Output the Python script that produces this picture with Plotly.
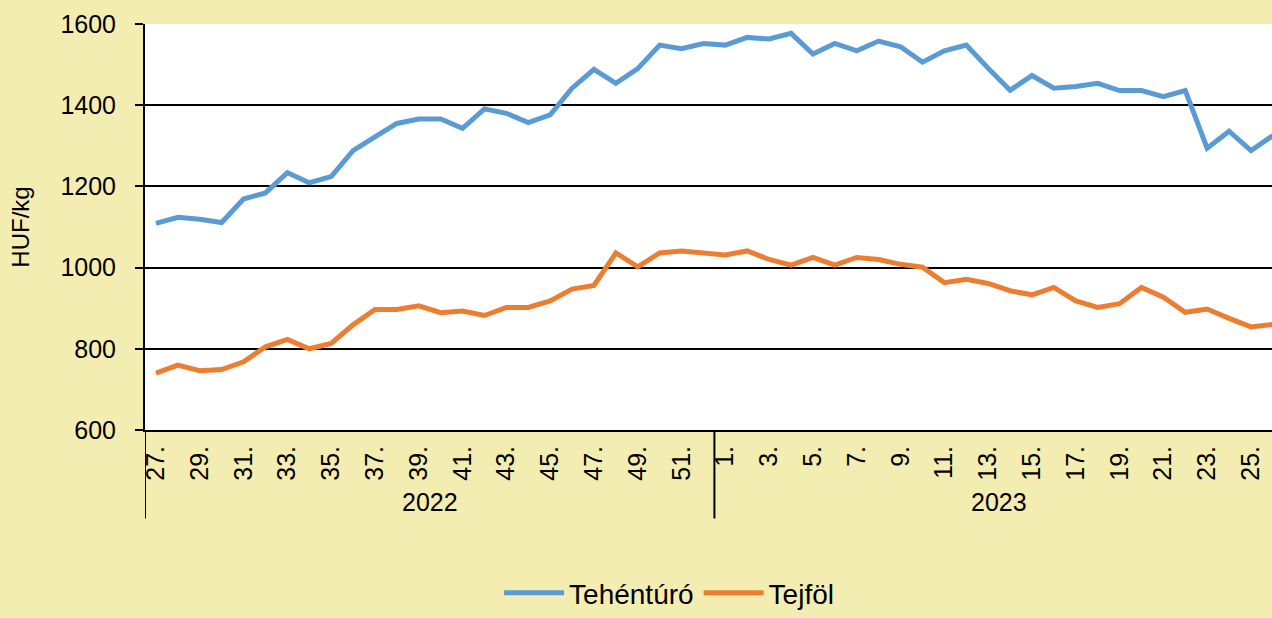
import plotly.graph_objects as go

weeks_2022 = list(range(27, 53))
weeks_2023 = list(range(1, 27))
week_labels = [f"{w}." for w in weeks_2022 + weeks_2023]

tehenturo = [1109, 1124, 1119, 1111, 1169, 1184, 1234, 1209, 1224, 1288,
             1322, 1355, 1366, 1366, 1343, 1391, 1380, 1357, 1376, 1442,
             1488, 1454, 1490, 1548, 1539, 1552, 1548, 1567, 1563, 1577,
             1526, 1552, 1534, 1558, 1544, 1506, 1534, 1548, 1491, 1437,
             1473, 1442, 1446, 1454, 1436, 1436, 1421, 1436, 1294, 1336,
             1288, 1325]
tejfol = [740, 760, 746, 749, 768, 805, 823, 800, 813, 859,
          897, 897, 906, 889, 893, 882, 902, 902, 918, 947,
          956, 1036, 1002, 1036, 1041, 1035, 1031, 1041, 1020, 1006,
          1025, 1006, 1025, 1020, 1008, 1001, 963, 971, 961, 943,
          933, 951, 918, 902, 911, 951, 927, 890, 898, 875,
          854, 860]

years = ["2022", "2023"]

BG = "#F4EDB2"
FONT = "Liberation Sans, Arial, sans-serif"

fig = go.Figure()
fig.add_trace(go.Scatter(x=week_labels, y=tehenturo, name="Tehéntúró", mode="lines",
                         line=dict(color="#5B9BD5", width=5)))
fig.add_trace(go.Scatter(x=week_labels, y=tejfol, name="Tejföl", mode="lines",
                         line=dict(color="#ED7D31", width=5)))

fig.update_layout(
    width=1272, height=618,
    margin=dict(l=145, r=0, t=24, b=188),
    paper_bgcolor=BG,
    plot_bgcolor="white",
    font=dict(family=FONT, size=25, color="black"),
    showlegend=True,
    legend=dict(orientation="h", xref="container", yref="container",
                x=0.526, xanchor="center", y=-0.008, yanchor="bottom",
                font=dict(size=28), itemwidth=60, bgcolor="rgba(0,0,0,0)"),
)

fig.update_xaxes(
    type="category",
    range=[-0.5, 50.96],
    tickmode="array", tickvals=week_labels[::2], ticktext=week_labels[::2],
    tickangle=-90,
    showgrid=False,
    showline=True, linecolor="black", linewidth=2,
    ticks="", ticklabelstandoff=4,
)
fig.update_yaxes(
    range=[600, 1600], dtick=200,
    showgrid=True, gridcolor="black", gridwidth=2,
    showline=True, linecolor="black", linewidth=2,
    ticks="outside", ticklen=8, tickwidth=2, tickcolor="black",
    ticklabelstandoff=14,
    zeroline=False,
    title=dict(text="HUF/kg", font=dict(size=24), standoff=24),
)

# year group dividers under the category axis
for xpos in [-0.5, len(weeks_2022) - 0.5]:
    fig.add_shape(type="line", xref="x", yref="paper", x0=xpos, x1=xpos, y0=0, y1=-0.218,
                  line=dict(color="black", width=2))

centers = [(len(weeks_2022) - 1) / 2, len(weeks_2022) + (len(weeks_2023) - 1) / 2]
for yr, c in zip(years, centers):
    fig.add_annotation(text=yr, x=c, xref="x", y=-0.177, yref="paper",
                       showarrow=False, font=dict(size=25), yanchor="middle")

fig.write_html("out.html", config={"displayModeBar": False},
               post_script="document.body.style.margin='0';")
